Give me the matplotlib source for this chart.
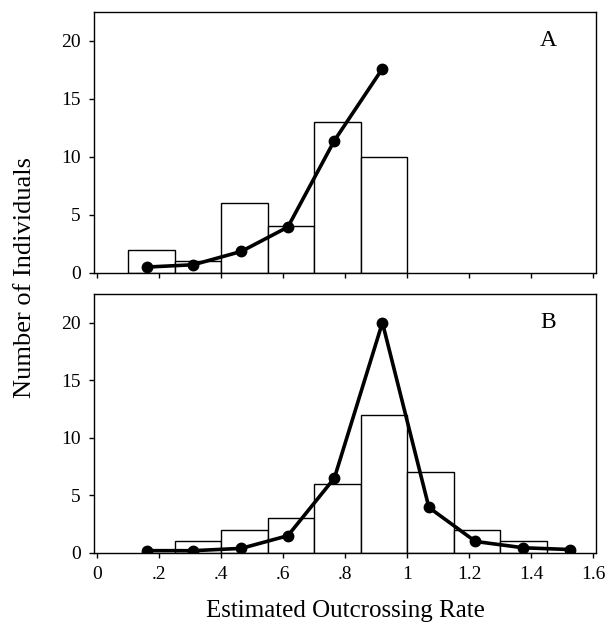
import matplotlib.pyplot as plt

# --- datos ---
bin_edges_a = [0.10, 0.25, 0.40, 0.55, 0.70, 0.85]
counts_a = [2, 1, 6, 4, 13, 10]
line_x_a = [0.16, 0.31, 0.465, 0.615, 0.765, 0.92]
line_y_a = [0.5, 0.7, 1.85, 3.95, 11.4, 17.6]

bin_edges_b = [0.25, 0.40, 0.55, 0.70, 0.85, 1.00, 1.15, 1.30]
counts_b = [1, 2, 3, 6, 12, 7, 2, 1]
line_x_b = [0.16, 0.31, 0.465, 0.615, 0.765, 0.92, 1.07, 1.22, 1.375, 1.525]
line_y_b = [0.2, 0.2, 0.4, 1.5, 6.5, 20.0, 3.95, 1.0, 0.45, 0.3]

bin_width = 0.15
xticks = [0, 0.2, 0.4, 0.6, 0.8, 1.0, 1.2, 1.4, 1.6]
xticklabels = ["0", ".2", ".4", ".6", ".8", "1", "1.2", "1.4", "1.6"]
yticks = [0, 5, 10, 15, 20]

plt.rcParams['font.family'] = ['Liberation Serif', 'DejaVu Serif']

fig = plt.figure(figsize=(6.11, 6.23), dpi=100)
ax_a = fig.add_axes([0.154, 0.562, 0.822, 0.419])
ax_b = fig.add_axes([0.154, 0.1124, 0.822, 0.416])

paneles = [
    (ax_a, bin_edges_a, counts_a, line_x_a, line_y_a, "A"),
    (ax_b, bin_edges_b, counts_b, line_x_b, line_y_b, "B"),
]

for ax, edges, counts, lx, ly, letra in paneles:
    ax.bar(edges, counts, width=bin_width, align='edge',
           facecolor='white', edgecolor='black', linewidth=1.0, zorder=2)
    ax.plot(lx, ly, color='black', linewidth=2.6, marker='o',
            markersize=7.5, zorder=3)
    ax.set_xlim(-0.01, 1.61)
    ax.set_ylim(0, 22.5)
    ax.set_xticks(xticks)
    ax.set_yticks(yticks)
    ax.tick_params(direction='out', length=3.5, width=1, labelsize=14,
                   colors='black', pad=6)
    for s in ax.spines.values():
        s.set_linewidth(1.0)
    ax.text(0.905, 0.89, letra, transform=ax.transAxes, fontsize=17,
            ha='center', va='center')

ax_a.set_xticklabels([])
ax_b.set_xticklabels(xticklabels)

ax_b.set_xlabel("Estimated Outcrossing Rate", fontsize=18, labelpad=12)
fig.text(0.041, 0.555, "Number of Individuals", rotation=90, fontsize=19,
         ha='center', va='center')

fig.savefig("out.png", dpi=100)
